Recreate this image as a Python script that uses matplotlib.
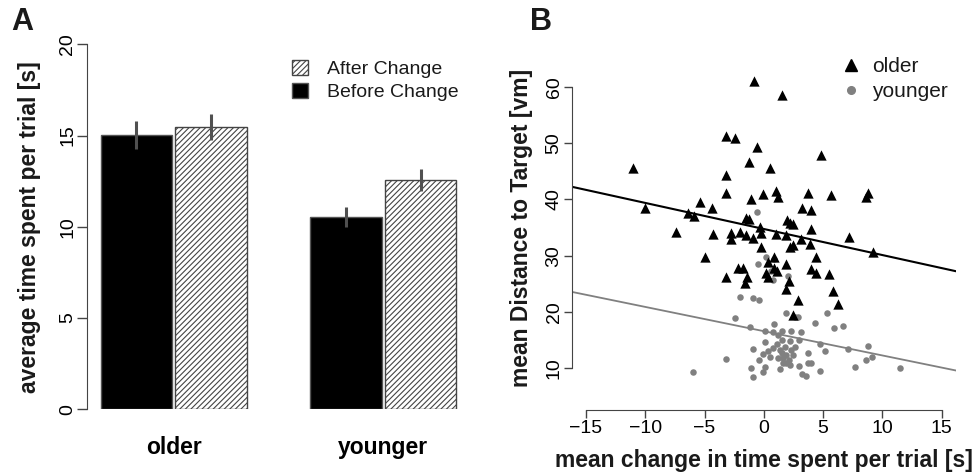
import numpy as np
import matplotlib
matplotlib.use("Agg")
import matplotlib.pyplot as plt
from matplotlib.lines import Line2D

plt.rcParams['font.family'] = ['Liberation Sans', 'DejaVu Sans']
plt.rcParams['hatch.linewidth'] = 0.8
plt.rcParams['text.color'] = '#1a1a1a'

# panel A data
groups = ['older', 'younger']
before = [15.03, 10.52]
after = [15.47, 12.56]
before_err = [0.78, 0.55]
after_err = [0.71, 0.60]

# panel B data
older_x = [-0.86, 1.5, -3.2, -2.4, -0.55, 4.8, -11.05, -1.25, 0.5, -3.2,
           -3.2, 1.0, -0.07, 1.2, -1.1, 3.7, 5.65, 8.8, 8.65, -10.0,
           -5.4, -4.4, 3.2, 4.0, -6.4, -5.85, -1.5, -1.25, 1.95, 2.2,
           2.5, -7.4, -4.3, -2.75, -2.0, -2.8, -1.5, -0.9, -0.35, -0.27,
           1.06, 1.9, 3.1, 4.0, 3.9, 7.2, 9.2, -5.0, -0.27, 0.9,
           2.2, 2.5, 4.4, 0.35, 1.9, -2.2, -1.75, 0.9, 1.14, 0.2,
           4.0, 4.4, -3.2, -1.4, 0.35, 5.5, -1.55, 2.1, 1.85, 5.85,
           2.85, 6.25, 2.5]
older_y = [61.0, 58.5, 51.2, 50.9, 49.3, 47.9, 45.5, 46.6, 45.6, 44.4,
           41.1, 41.5, 40.9, 40.4, 40.1, 41.1, 40.7, 41.1, 40.4, 38.5,
           39.6, 38.4, 38.4, 38.1, 37.5, 37.1, 36.7, 36.5, 36.3, 35.9,
           35.6, 34.3, 33.8, 34.0, 34.3, 33.0, 33.6, 33.2, 35.1, 34.1,
           33.8, 33.6, 32.9, 34.7, 32.1, 33.4, 30.7, 29.8, 31.6, 29.8,
           31.6, 31.9, 29.8, 28.8, 28.5, 27.8, 27.8, 27.8, 27.3, 26.9,
           27.6, 26.9, 26.3, 26.3, 26.3, 26.7, 25.1, 25.5, 24.1, 23.7,
           22.2, 21.5, 19.5]
younger_x = [-0.6, 0.9, 0.2, -0.5, 2.0, 0.6, 0.8, -2.0, -0.9, -0.4,
             -2.4, 1.9, 2.6, 2.9, 5.3, 4.3, 6.65, 5.9, -1.2, 0.9,
             1.55, 2.3, 3.1, 0.13, 0.8, 1.2, 1.5, 3.0, -0.9, 0.13,
             4.7, 5.2, 7.1, 8.8, -3.2, -6.0, -1.05, -0.9, 0.07, -0.1,
             1.4, 3.0, 3.7, 3.7, 3.96, 3.25, 3.6, 4.7, 7.7, 8.6,
             9.1, 11.5, -0.4, -0.1, 0.35, 0.5, 0.8, 1.14, 1.34, 1.5,
             1.6, 1.9, 2.1, 2.3, 2.5, 2.2, 1.77, 1.2, 2.2, 2.6,
             1.6, 1.9]
younger_y = [37.8, 29.4, 29.8, 28.5, 26.4, 27.2, 25.7, 22.6, 22.5, 22.1,
             18.9, 19.8, 19.1, 19.2, 19.9, 18.1, 17.6, 17.1, 17.4, 17.9,
             16.6, 16.6, 16.5, 16.6, 16.4, 15.9, 15.1, 15.1, 13.5, 14.7,
             14.3, 13.0, 13.4, 14.0, 11.7, 9.3, 10.1, 8.4, 10.2, 9.3,
             9.8, 10.5, 12.8, 10.9, 11.0, 9.0, 8.6, 9.5, 10.3, 11.4,
             12.0, 10.0, 11.5, 12.5, 13.0, 12.1, 13.6, 14.4, 13.3, 12.7,
             11.8, 12.4, 11.5, 13.3, 12.4, 14.8, 13.8, 11.8, 10.6, 13.8,
             10.9, 11.0]
# fitted lines (intercept, slope)
older_fit = (34.75, -0.463)
younger_fit = (16.6, -0.431)

axis_col = '#444444'
gray = '#808080'

fig = plt.figure(figsize=(9.75, 4.74), dpi=100)

# ---- panel A ----
axA = fig.add_axes([0.0895, 0.1365, 0.387, 0.770])
centers = np.array([0.98, 3.79])
w = 0.96
axA.bar(centers - 0.5, before, w, color='black', edgecolor='#555555', linewidth=1,
        label='Before Change')
axA.bar(centers + 0.5, after, w, color='white', edgecolor='#444444', linewidth=1,
        hatch='//////', label='After Change')
axA.errorbar(centers - 0.5, before, yerr=before_err, fmt='none', ecolor='#505050', elinewidth=2.2)
axA.errorbar(centers + 0.5, after, yerr=after_err, fmt='none', ecolor='#505050', elinewidth=2.2)
axA.set_xlim(-0.18, 4.88)
axA.set_ylim(0, 20)
for s in ['top', 'right', 'bottom']:
    axA.spines[s].set_visible(False)
axA.spines['left'].set_color(axis_col)
axA.set_yticks([0, 5, 10, 15, 20])
axA.tick_params(axis='y', length=7, width=1, color=axis_col, labelsize=14,
                labelrotation=90, pad=1)
for t in axA.get_yticklabels():
    t.set_va('center')
axA.set_xticks(centers, groups)
axA.tick_params(axis='x', length=0, labelsize=16.5, pad=19)
for t in axA.get_xticklabels():
    t.set_fontweight('bold')
h, l = axA.get_legend_handles_labels()
fig.legend(h[::-1], l[::-1], loc='upper left', bbox_to_anchor=(292/975, 1 - 60/474),
           bbox_transform=fig.transFigure, frameon=False, fontsize=14,
           handlelength=0.8, handleheight=0.8, handletextpad=1.0,
           labelspacing=0.25, borderpad=0, borderaxespad=0)
fig.text(30/975, 1 - 227/474, 'average time spent per trial [s]', rotation=90,
         ha='center', va='center', fontsize=16.5, fontweight='bold')
fig.text(11/975, 1 - 22/474, 'A', ha='left', va='center', fontsize=22, fontweight='bold')

# ---- panel B ----
axB = fig.add_axes([0.5864, 0.135, 0.394, 0.708])
axB.axline((0, younger_fit[0]), slope=younger_fit[1], color=gray, lw=1.3, zorder=1)
axB.axline((0, older_fit[0]), slope=older_fit[1], color='black', lw=1.5, zorder=1)
axB.scatter(younger_x, younger_y, s=22, color=gray, marker='o', linewidths=0, zorder=2)
axB.scatter(older_x, older_y, s=55, color='black', marker='^', linewidths=0, zorder=3)
axB.set_xlim(-16.2, 16.2)
axB.set_ylim(2.6, 62.2)
for s in ['top', 'right']:
    axB.spines[s].set_visible(False)
axB.spines['left'].set_bounds(10, 60)
axB.spines['bottom'].set_bounds(-15, 15)
axB.spines['left'].set_color(axis_col)
axB.spines['bottom'].set_color(axis_col)
axB.set_yticks([10, 20, 30, 40, 50, 60])
axB.set_xticks([-15, -10, -5, 0, 5, 10, 15])
axB.tick_params(axis='y', length=6, width=1, color=axis_col, labelsize=14,
                labelrotation=90, pad=0.5)
for t in axB.get_yticklabels():
    t.set_va('center')
axB.tick_params(axis='x', length=6, width=1, color=axis_col, labelsize=14, pad=1)
leg_handles = [Line2D([], [], marker='^', color='black', ls='none', markersize=8),
               Line2D([], [], marker='o', color=gray, ls='none', markersize=5.5)]
fig.legend(leg_handles, ['older', 'younger'], loc='upper left',
           bbox_to_anchor=(843/975, 1 - 57/474), bbox_transform=fig.transFigure,
           frameon=False, fontsize=15, handlelength=0.8, handletextpad=0.6,
           labelspacing=0.3, borderpad=0, borderaxespad=0)
fig.text(521.7/975, 1 - 228/474, 'mean Distance to Target [vm]', rotation=90,
         ha='center', va='center', fontsize=16.5, fontweight='bold')
fig.text(764/975, 1 - 461/474, 'mean change in time spent per trial [s]',
         ha='center', va='center', fontsize=16.5, fontweight='bold')
fig.text(530/975, 1 - 22/474, 'B', ha='left', va='center', fontsize=22, fontweight='bold')

fig.savefig('out.png', dpi=100)
